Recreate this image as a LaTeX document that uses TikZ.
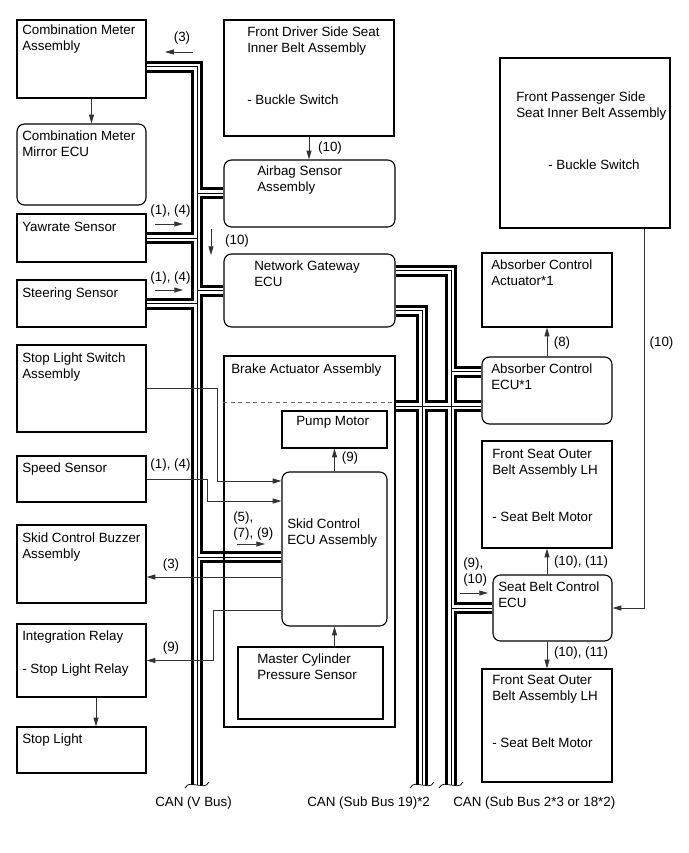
\documentclass[tikz,border=0pt]{standalone}
\usepackage{fontspec}
\setmainfont{Liberation Sans}
\usetikzlibrary{arrows.meta, calc, fit, backgrounds}

\newcommand{\boxtext}[1]{\begin{tabular}[t]{@{}l@{}}#1\end{tabular}}

% CAN runs, stroked three times: outline, gap, core
\newcommand{\canruns}{%
  ($(cma.east)+(0,8)$) -| (vbusend)
  (airbag.west) -- (airbag.west -| vbusend)
  (yaw.east) -- (yaw.east -| vbusend)
  (gateway.west) -- (gateway.west -| vbusend)
  (steer.east) -- (steer.east -| vbusend)
  (skidcan) -- (skidcan -| vbusend)
  (gw19) -| (sub19end)
  (gw2) -| (sub2end)
  (abscan) -- (abscan -| sub2end)
  (sbecu.west) -- (sbecu.west -| sub2end)
  (brkcan) -- (brkcan -| absecu.west)
}

\begin{document}
\begin{tikzpicture}[
    x=0.8pt, y=-0.8pt,
    box/.style={draw, line width=0.9pt, inner sep=0pt},
    ecu/.style={box, rounded corners=6pt},
    txt/.style={anchor=base west, inner sep=0pt, font=\fontsize{10.7}{12.8}\selectfont},
    lbl/.style={inner sep=0pt, font=\fontsize{10.7}{12.8}\selectfont},
    wire/.style={draw=black!80, line width=0.7pt, -{Triangle[length=7pt,width=4pt]}},
    flow/.style={wire},
]
\useasboundingbox (0,0) rectangle (689,853);

% Left column
\node[box, fit={(17,20) (146,98)}] (cma) {};
\node[ecu, fit={(17,124) (146,205)}] (cmm) {};
\node[box, fit={(17,214) (146,262)}] (yaw) {};
\node[box, fit={(17,280) (146,327)}] (steer) {};
\node[box, fit={(17,345) (146,432)}] (slsw) {};
\node[box, fit={(17,456) (146,502)}] (speed) {};
\node[box, fit={(17,525) (146,603)}] (buzzer) {};
\node[box, fit={(17,624) (146,697)}] (intrelay) {};
\node[box, fit={(17,727) (146,773)}] (stoplight) {};

% Middle column
\node[box, fit={(224,20) (394,136)}] (fdbelt) {};
\node[ecu, fit={(224,160) (395,227)}] (airbag) {};
\node[ecu, fit={(224,254) (395,327)}] (gateway) {};
\node[box, fit={(224,356) (395,727)}] (brake) {};
\node[box, fit={(282,411) (387,448)}] (pump) {};
\node[ecu, fit={(282,472) (387,626)}] (skid) {};
\node[box, fit={(238,647) (383,719)}] (mcyl) {};

% Right column
\node[box, fit={(500,58) (670,228)}] (fpbelt) {};
\node[box, fit={(482,253) (612,327)}] (absact) {};
\node[ecu, fit={(482,357) (612,424)}] (absecu) {};
\node[box, fit={(482,441) (612,548)}] (fsbeltU) {};
\node[ecu, fit={(493,575) (612,641)}] (sbecu) {};
\node[box, fit={(482,669) (612,782)}] (fsbeltL) {};

% Box texts
\node[txt] (cmaT) at (22,35) {\boxtext{Combination Meter\\Assembly}};
\node[txt] (cmmT) at (22,141) {\boxtext{Combination Meter\\Mirror ECU}};
\node[txt] (yawT) at (22,231) {Yawrate Sensor};
\node[txt] (steerT) at (22,297) {Steering Sensor};
\node[txt] (slswT) at (22,362) {\boxtext{Stop Light Switch\\Assembly}};
\node[txt] (speedT) at (22,472) {Speed Sensor};
\node[txt] (buzzerT) at (22,542) {\boxtext{Skid Control Buzzer\\Assembly}};
\node[txt] (intrelayT) at (22,640) {\boxtext{Integration Relay\\[14pt]- Stop Light Relay}};
\node[txt] (stoplightT) at (22,743) {Stop Light};
\node[txt] (fdbeltT) at (247,37) {\boxtext{Front Driver Side Seat\\Inner Belt Assembly\\[28.8pt]- Buckle Switch}};
\node[txt] (airbagT) at (257,176) {\boxtext{Airbag Sensor\\Assembly}};
\node[txt] (gatewayT) at (254,270) {\boxtext{Network Gateway\\ECU}};
\node[txt] (brakeT) at (231,373) {Brake Actuator Assembly};
\node[txt] (pumpT) at (296,425) {Pump Motor};
\node[txt] (skidT) at (287,528) {\boxtext{Skid Control\\ECU Assembly}};
\node[txt] (mcylT) at (257,663) {\boxtext{Master Cylinder\\Pressure Sensor}};
\node[txt] (fpbeltT) at (516,102) {\boxtext{Front Passenger Side\\Seat Inner Belt Assembly}};
\node[txt] (fpswT) at (548,170) {- Buckle Switch};
\node[txt] (absactT) at (491,269) {\boxtext{Absorber Control\\Actuator*1}};
\node[txt] (absecuT) at (491,373) {\boxtext{Absorber Control\\ECU*1}};
\node[txt] (fsbeltUT) at (492,458) {\boxtext{Front Seat Outer\\Belt Assembly LH\\[24.8pt]- Seat Belt Motor}};
\node[txt] (sbecuT) at (498,591) {\boxtext{Seat Belt Control\\ECU}};
\node[txt] (fsbeltLT) at (492,684) {\boxtext{Front Seat Outer\\Belt Assembly LH\\[24.8pt]- Seat Belt Motor}};

% Bus ends and taps
\coordinate (vbusend) at (197,785);
\coordinate (sub19end) at (422,785);
\coordinate (sub2end) at (451,785);
\coordinate (skidcan) at ($(skid.west)+(0,8)$);
\coordinate (gw19) at ($(gateway.east)+(0,20)$);
\coordinate (gw2) at ($(gateway.east)+(0,-20)$);
\coordinate (abscan) at ($(absecu.west)+(0,-19)$);
\coordinate (brkcan) at ($(brake.east)+(0,-135.5)$);

\begin{scope}[on background layer]
  \draw[line width=9.6pt] \canruns;
  \draw[line width=4.8pt, white] \canruns;
  \draw[line width=0.8pt] \canruns;
\end{scope}

% Bus break marks
\draw[line width=0.6pt] ($(vbusend)+(-12,3)$) .. controls +(3,-6) and +(-4,0) .. (vbusend) .. controls +(4,0) and +(-3,6) .. ($(vbusend)+(12,-3)$);
\draw[line width=0.6pt] ($(sub19end)+(-12,3)$) .. controls +(3,-6) and +(-4,0) .. (sub19end) .. controls +(4,0) and +(-3,6) .. ($(sub19end)+(12,-3)$);
\draw[line width=0.6pt] ($(sub2end)+(-12,3)$) .. controls +(3,-6) and +(-4,0) .. (sub2end) .. controls +(4,0) and +(-3,6) .. ($(sub2end)+(12,-3)$);

% Bus names
\node[txt] (vbusT) at (155,806) {CAN (V Bus)};
\node[txt] (sub19T) at (307,806) {CAN (Sub Bus 19)*2};
\node[txt] (sub2T) at (453,806) {CAN (Sub Bus 2*3 or 18*2)};

% Dashed split in brake actuator
\draw[black!60, dashed, line width=0.6pt] ($(brake.west)+(0,-139.5)$) -- ($(brake.east)+(0,-139.5)$);

% Wires
\draw[wire] ($(cma.south)+(10,0)$) -- ($(cmm.north)+(10,0)$);
\draw[wire] ($(intrelay.south)+(14.5,0)$) -- ($(stoplight.north)+(14.5,0)$);
\draw[wire] (fdbelt.south) -- (fdbelt.south |- airbag.north);
\draw[wire] (skid.north) -- (pump.south);
\draw[wire] (mcyl.north -| skid.south) -- (skid.south);
\draw[wire] (absecu.north) -- (absact.south);
\draw[wire] (sbecu.north -| fsbeltU.south) -- (fsbeltU.south);
\draw[wire] (sbecu.south -| fsbeltL.north) -- (fsbeltL.north);
\coordinate (pbdrop) at ($(fpbelt.south)+(59,0)$);
\draw[wire] (pbdrop) |- (sbecu.east);
\coordinate (swbend) at (217,481);
\draw[wire] (slsw.east) -| (swbend) -- (swbend -| skid.west);
\coordinate (spbend) at (207,501);
\draw[wire] (speed.east) -| (spbend) -- (spbend -| skid.west);
\coordinate (bzout) at ($(skid.west)+(0,28)$);
\draw[wire] (bzout) -- (bzout -| buzzer.east);
\coordinate (rlout) at ($(skid.west)+(0,61)$);
\coordinate (rlbend) at (213,610);
\draw[wire] (rlout) -- (rlbend) |- (intrelay.east);

% Direction marks
\coordinate (f3a) at (193,52);
\coordinate (f3b) at (165,52);
\draw[flow] (f3a) -- (f3b);
\coordinate (fyawa) at (155,224);
\coordinate (fyawb) at (183,224);
\draw[flow] (fyawa) -- (fyawb);
\coordinate (fstra) at (155,290);
\coordinate (fstrb) at (183,290);
\draw[flow] (fstra) -- (fstrb);
\coordinate (fgwa) at (211,229);
\coordinate (fgwb) at (211,255);
\draw[flow] (fgwa) -- (fgwb);
\coordinate (fska) at (237,544);
\coordinate (fskb) at (265,544);
\draw[flow] (fska) -- (fskb);
\coordinate (fsba) at (460,593);
\coordinate (fsbb) at (488,593);
\draw[flow] (fsba) -- (fsbb);

% Labels
\node[lbl] (l3top) at (182,38) {(3)};
\node[lbl] (lyaw) at (170.5,211) {(1), (4)};
\node[lbl] (lstr) at (170.5,278) {(1), (4)};
\node[lbl] (ldrv) at (330,148) {(10)};
\node[lbl] (lgw) at (237,241) {(10)};
\node[lbl] (lspd) at (170.5,465) {(1), (4)};
\node[txt] (lsk) at (233,521) {\boxtext{(5),\\(7), (9)}};
\node[lbl] (lbz) at (171,565) {(3)};
\node[lbl] (lrl) at (171,648) {(9)};
\node[lbl] (lpm) at (350,458) {(9)};
\node[lbl] (labs) at (562,343) {(8)};
\node[lbl] (lpas) at (661.5,343.5) {(10)};
\node[lbl] (lsbu) at (581,562) {(10), (11)};
\node[txt] (lsb) at (463,567) {\boxtext{(9),\\(10)}};
\node[lbl] (lsbl) at (581,653) {(10), (11)};

\end{tikzpicture}
\end{document}
